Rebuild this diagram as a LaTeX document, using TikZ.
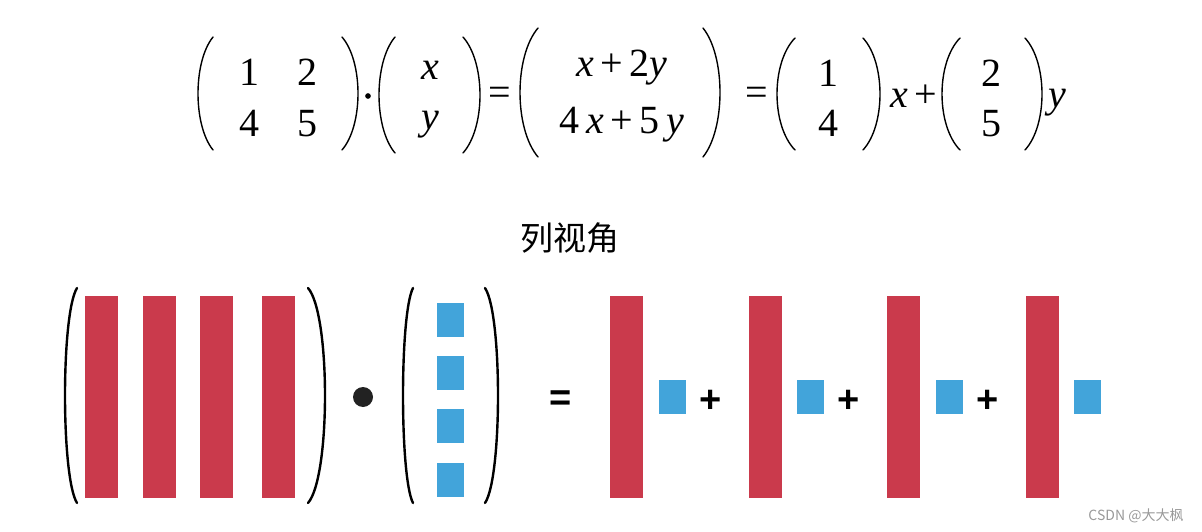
\documentclass[tikz,border=0pt]{standalone}
\usepackage{fontspec}
\setmainfont{Liberation Serif}
\setsansfont{Liberation Sans}
\newfontfamily\cjk{Noto Sans CJK SC}
\definecolor{colred}{HTML}{CA3A4C}
\definecolor{colblue}{HTML}{42A4DA}
\definecolor{dotgray}{HTML}{222222}
\tikzset{
  paren/.style={line width=1.4pt, line cap=round},
  big paren/.style={line width=2.4pt, line cap=round},
  col bar/.style={fill=colred, draw=none},
  coef box/.style={fill=colblue, draw=none},
  entry/.style={anchor=base, inner sep=0pt, font=\fontsize{40}{44}\selectfont},
  op/.style={inner sep=0pt, font=\sffamily\bfseries\fontsize{38}{42}\selectfont},
  mul dot/.style={circle, fill, inner sep=2pt},
}
\newcommand{\vx}{\textit{x}}
\newcommand{\vy}{\textit{y}}

\begin{document}
\begin{tikzpicture}[x=1pt, y=-1pt]
  \useasboundingbox (0,0) rectangle (1202,532);
  % top line: parentheses
  \foreach \xa/\xb/\ya/\yb in {213/198/37/150, 342/358/37/150,
      395/379/37/153, 463/480/37/153, 538/520/28/157, 703/720/28/157,
      795/777/38/150, 863/880/38/150, 960/942/38/150, 1025/1042/38/150}
    \draw[paren] (\xa,\ya) .. controls ({\xa+(\xb-\xa)*4/3},{\ya+(\yb-\ya)*0.22})
      and ({\xa+(\xb-\xa)*4/3},{\yb-(\yb-\ya)*0.22}) .. (\xa,\yb);
  % top line: entries
  \node[entry] (a11) at (249,86)  {1};
  \node[entry] (a12) at (307,86)  {2};
  \node[entry] (a21) at (249,137) {4};
  \node[entry] (a22) at (307,137) {5};
  \node[mul dot] (cdot) at (368,96) {};
  \node[entry] (vx) at (430,80)  {\vx};
  \node[entry] (vy) at (430,130) {\vy};
  \node[entry] (eq1) at (500,106) {=};
  \node[entry] (r1) at (622,77)  {\vx\,+\,2\vy};
  \node[entry] (r2) at (622,134) {4\,\vx\,+\,5\,\vy};
  \node[entry] (eq2) at (757,106) {=};
  \node[entry] (c11) at (828,87)  {1};
  \node[entry] (c12) at (828,136) {4};
  \node[entry] (xplus) at (914,108) {\vx\,+};
  \node[entry] (c21) at (991,87)  {2};
  \node[entry] (c22) at (991,136) {5};
  \node[entry] (ty) at (1057,108) {\vy};

  \node[font=\cjk\fontsize{33}{36}\selectfont] (title) at (570,238) {列视角};

  % bottom line: matrix of columns
  \foreach \xa/\xb/\ya/\yb in {77/65/288/503, 308/325/288/503,
      413/403/288/503, 485/498/288/503}
    \draw[big paren] (\xa,\ya) .. controls ({\xa+(\xb-\xa)*4/3},{\ya+(\yb-\ya)*0.12})
      and ({\xa+(\xb-\xa)*4/3},{\yb-(\yb-\ya)*0.12}) .. (\xa,\yb);
  \foreach \x in {85,143,200,262}
    \fill[col bar] (\x,296) rectangle ++(33,202);
  \fill[dotgray] (363,397) circle (10);
  \foreach \y in {303,356,409,463}
    \fill[coef box] (437,\y) rectangle ++(27,34);

  % bottom line: sum of columns
  \node[op] (eq3) at (561,401) {=};
  \foreach \x/\c in {610/659,749/797,887/936,1026/1074} {
    \fill[col bar] (\x,296) rectangle ++(33,202);
    \fill[coef box] (\c,380) rectangle ++(27,34);
  }
  \node[op] (p1) at (711,401) {+};
  \node[op] (p2) at (849,401) {+};
  \node[op] (p3) at (988,401) {+};

  \node[font=\cjk\fontsize{14}{16}\selectfont, text=gray!80] (mark) at (1136,516) {CSDN @大大枫};
\end{tikzpicture}
\end{document}
